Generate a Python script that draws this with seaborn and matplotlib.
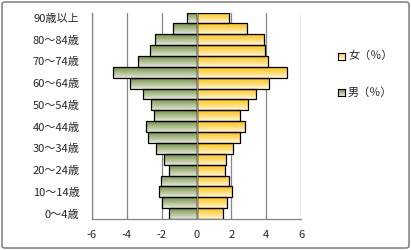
import numpy as np
import pandas as pd
import matplotlib
matplotlib.use("Agg")
import matplotlib.pyplot as plt
import seaborn as sns
from matplotlib.patches import FancyBboxPatch, Rectangle

# ---- data (top to bottom) ----
ages = ["90歳以上", "85～89歳", "80～84歳", "75～79歳", "70～74歳", "65～69歳",
        "60～64歳", "55～59歳", "50～54歳", "45～49歳", "40～44歳", "35～39歳",
        "30～34歳", "25～29歳", "20～24歳", "15～19歳", "10～14歳", "5～9歳", "0～4歳"]
female = [1.87, 2.90, 3.89, 3.94, 4.11, 5.17, 4.17, 3.41, 2.97, 2.51,
          2.80, 2.50, 2.11, 1.70, 1.66, 1.89, 2.06, 1.75, 1.54]
male = [0.55, 1.35, 2.38, 2.67, 3.37, 4.80, 3.81, 3.09, 2.61, 2.46,
        2.91, 2.80, 2.32, 1.89, 1.58, 2.02, 2.17, 1.96, 1.60]
series_names = ["女（％）", "男（％）"]
shown_labels = ["90歳以上", "80～84歳", "70～74歳", "60～64歳", "50～54歳",
                "40～44歳", "30～34歳", "20～24歳", "10～14歳", "0～4歳"]
xticks = [-6, -4, -2, 0, 2, 4, 6]

df = pd.DataFrame({
    "age": ages * 2,
    "value": list(female) + [-v for v in male],
    "sex": [series_names[0]] * len(ages) + [series_names[1]] * len(ages),
})

sns.set_style("white")
plt.rcParams["font.family"] = ["Noto Sans CJK JP", "DejaVu Sans"]
plt.rcParams["axes.unicode_minus"] = False

W, H = 411, 250
fig = plt.figure(figsize=(W / 100, H / 100), dpi=100)
ax = fig.add_axes([92 / W, 31 / H, 209 / W, 206.5 / H])

top_cols = {series_names[0]: np.array([255, 192, 0]) / 255,
            series_names[1]: np.array([118, 146, 60]) / 255}
bot_cols = {series_names[0]: np.array([255, 246, 220]) / 255,
            series_names[1]: np.array([228, 232, 222]) / 255}

sns.barplot(data=df, x="value", y="age", hue="sex", order=ages,
            hue_order=series_names, orient="h", dodge=False, width=1.0,
            palette={k: tuple(v) for k, v in top_cols.items()},
            legend=False, ax=ax)

ax.set_xlim(-6, 6)
ax.set_ylim(len(ages) - 0.5, -0.5)

# gradient fills clipped to bars
n = len(ages)
for i, patch in enumerate(ax.patches):
    name = series_names[0] if i < n else series_names[1]
    bb = patch.get_bbox()
    x0, x1 = sorted([bb.x0, bb.x1])
    y0, y1 = sorted([bb.y0, bb.y1])
    t = np.linspace(0, 1, 64)[:, None, None]
    grad = top_cols[name][None, None, :] * (1 - t) + bot_cols[name][None, None, :] * t
    im = ax.imshow(grad, extent=(x0, x1, y1, y0), aspect="auto",
                   origin="upper", zorder=2, interpolation="bilinear")
    im.set_clip_path(patch)
    patch.set_facecolor("none")
    patch.set_edgecolor("black")
    patch.set_linewidth(0.9)
    patch.set_zorder(3)

ax.set_xlim(-6, 6)
ax.set_ylim(len(ages) - 0.5, -0.5)

# grid
for xv in xticks:
    if xv == 0:
        continue
    ax.axvline(xv, color="#868686", lw=0.9, zorder=1)
ax.axvline(0, color="#868686", lw=0.9, zorder=4)

ax.set_xticks(xticks)
ax.set_xticklabels([str(v) for v in xticks], fontsize=8)
ax.set_yticks([ages.index(l) for l in shown_labels])
ax.set_yticklabels(shown_labels, fontsize=8)
ax.tick_params(axis="y", length=0, pad=9)
ax.tick_params(axis="x", length=3, width=0.9, color="#868686", direction="out", pad=5)
ax.set_xlabel("")
ax.set_ylabel("")
for s in ["top", "right"]:
    ax.spines[s].set_visible(False)
ax.spines["left"].set_color("#868686")
ax.spines["left"].set_linewidth(0.9)
ax.spines["bottom"].set_color("#868686")
ax.spines["bottom"].set_linewidth(0.9)

# manual legend with gradient squares
leg_items = [(series_names[0], 56), (series_names[1], 92.5)]
for name, yc in leg_items:
    lax = fig.add_axes([338 / W, (H - yc - 3.5) / H, 7 / W, 7 / H])
    t = np.linspace(0, 1, 16)[:, None, None]
    grad = top_cols[name][None, None, :] * (1 - t) + bot_cols[name][None, None, :] * t
    lax.imshow(grad, aspect="auto", interpolation="bilinear")
    lax.set_xticks([])
    lax.set_yticks([])
    for s in lax.spines.values():
        s.set_color("black")
        s.set_linewidth(0.8)
    fig.text(348 / W, (H - yc) / H, name, fontsize=8, va="center", ha="left")

# chart border
border = FancyBboxPatch((2 / W, 2 / H), (W - 4) / W, (H - 4) / H,
                        boxstyle="round,pad=0,rounding_size=0.008",
                        transform=fig.transFigure, fill=False,
                        edgecolor="#868686", lw=1.2)
fig.patches.append(border)

fig.savefig("out.png", dpi=100)
